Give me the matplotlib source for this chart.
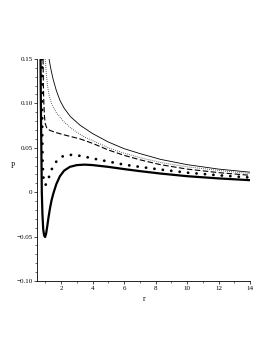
import matplotlib
matplotlib.use("Agg")
import matplotlib.pyplot as plt
from matplotlib.ticker import MultipleLocator

# thin solid
r1 = [1.24, 1.35, 1.5, 1.7, 1.94, 2.2, 2.6, 3.2, 4, 5, 6, 7, 8.3, 10, 12, 14]
p1 = [0.15, 0.139, 0.127, 0.1145, 0.103, 0.0945, 0.085, 0.0755, 0.066, 0.0565, 0.049, 0.0435, 0.037, 0.031, 0.026, 0.0225]
# fine dotted
r2 = [1.0, 1.06, 1.14, 1.25, 1.41, 1.7, 2.2, 2.7, 3.5, 4.27, 5, 6, 7, 8.3, 10, 12, 14]
p2 = [0.15, 0.135, 0.12, 0.108, 0.099, 0.0895, 0.079, 0.071, 0.062, 0.056, 0.050, 0.0438, 0.039, 0.0335, 0.0285, 0.0245, 0.021]
# dashed
r3 = [0.86, 0.88, 0.91, 0.95, 1.0, 1.1, 1.3, 1.7, 2.2, 3.2, 4, 5, 6, 7, 8.3, 10, 12, 14]
p3 = [0.15, 0.12, 0.10, 0.085, 0.077, 0.072, 0.0695, 0.067, 0.0645, 0.060, 0.055, 0.0475, 0.0415, 0.0365, 0.031, 0.026, 0.022, 0.019]
# big dots
r4 = [0.80, 0.80, 0.81, 0.83, 0.87, 0.93, 1.0, 1.1, 1.2, 1.35, 1.55, 1.77, 2.0, 2.2, 2.6, 3.0, 3.5, 4, 5, 6, 7, 8.3, 10, 12, 14]
p4 = [0.15, 0.10, 0.06, 0.035, 0.018, 0.010, 0.008, 0.010, 0.015, 0.0236, 0.031, 0.036, 0.0395, 0.041, 0.042, 0.0415, 0.040, 0.038, 0.0345, 0.031, 0.0285, 0.0255, 0.022, 0.019, 0.0165]
# thick solid
r5 = [0.70, 0.72, 0.75, 0.78, 0.82, 0.87, 0.93, 0.99, 1.05, 1.12, 1.2, 1.3, 1.4, 1.52, 1.7, 1.93, 2.2, 2.56, 3.0, 3.5, 4, 5, 6, 7, 8.3, 10, 12, 14]
p5 = [0.15, 0.10, 0.05, 0.0, -0.025, -0.042, -0.049, -0.0505, -0.047, -0.039, -0.029, -0.018, -0.009, -0.001, 0.009, 0.018, 0.0243, 0.0285, 0.0305, 0.031, 0.0305, 0.0285, 0.026, 0.0237, 0.021, 0.018, 0.0155, 0.0135]

xticks = [2, 4, 6, 8, 10, 12, 14]
yticks = [-0.10, -0.05, 0, 0.05, 0.10, 0.15]
ylabels = ["\u22120.10", "\u22120.05", "0", "0.05", "0.10", "0.15"]

plt.rcParams['font.family'] = ['Liberation Serif', 'DejaVu Serif']
fig = plt.figure(figsize=(2.73, 3.53), dpi=100)
ax = fig.add_axes([0.137, 0.204, 0.779, 0.629])

ax.plot(r1, p1, color='black', lw=0.6)
ax.plot(r2, p2, color='black', lw=0.7, linestyle=(0, (0.6, 1.5)))
ax.plot(r3, p3, color='black', lw=0.8, linestyle=(0, (5, 2.2)))
ax.plot(r4, p4, color='black', lw=2.0, linestyle=(0, (0.05, 3.0)), dash_capstyle='round')
ax.plot(r5, p5, color='black', lw=1.6)

ax.set_xlim(0.5, 14)
ax.set_ylim(-0.10, 0.15)
ax.set_xticks(xticks)
ax.set_xticklabels([str(t) for t in xticks])
ax.set_yticks(yticks)
ax.set_yticklabels(ylabels)
ax.xaxis.set_minor_locator(MultipleLocator(1))
ax.yaxis.set_minor_locator(MultipleLocator(0.01))
for s in ['top', 'right']:
    ax.spines[s].set_visible(False)
for s in ['left', 'bottom']:
    ax.spines[s].set_linewidth(0.6)
ax.tick_params(axis='both', which='major', length=2.2, width=0.5, labelsize=5, pad=1.2)
ax.tick_params(axis='both', which='minor', length=1.2, width=0.4)

ax.set_ylabel('P', rotation=0, fontsize=5.5)
ax.yaxis.set_label_coords(-0.114, 0.50)
ax.set_xlabel('r', fontsize=5.5)
ax.xaxis.set_label_coords(0.50, -0.063)

fig.savefig('out.png', dpi=100)
